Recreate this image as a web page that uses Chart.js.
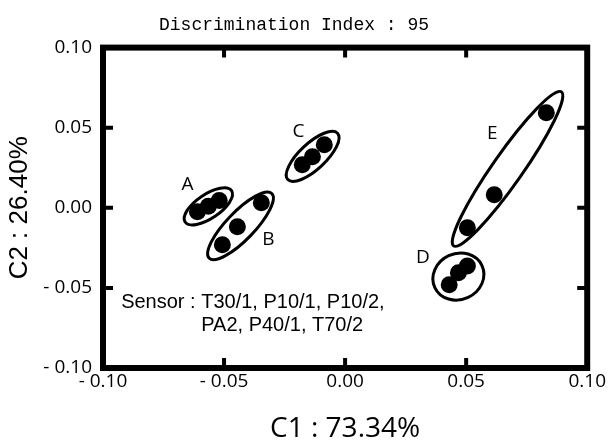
<!DOCTYPE html>
<html>
<head>
<meta charset="utf-8">
<script src="https://cdn.jsdelivr.net/npm/chart.js@4"></script>
<style>
  html, body { margin: 0; padding: 0; background: #fff; }
  #wrap { width: 608px; height: 442px; }
</style>
</head>
<body>
<div id="wrap"><canvas id="pcaChart"></canvas></div>
<script>
// values (C1, C2 scores)
const groupA = [{x: -0.0610, y: -0.0025}, {x: -0.0565, y: 0.0010}, {x: -0.0520, y: 0.0045}];
const groupB = [{x: -0.0507, y: -0.0231}, {x: -0.0445, y: -0.0119}, {x: -0.0346, y: 0.0031}];
const groupC = [{x: -0.0177, y: 0.0269}, {x: -0.0135, y: 0.0319}, {x: -0.0086, y: 0.0394}];
const groupD = [{x: 0.0505, y: -0.0363}, {x: 0.0468, y: -0.0406}, {x: 0.0430, y: -0.0481}];
const groupE = [{x: 0.0831, y: 0.0594}, {x: 0.0616, y: 0.0081}, {x: 0.0505, y: -0.0125}];

const groupNames = ['A', 'B', 'C', 'D', 'E'];
// where each letter sits (data units)
const labelPos = [
    {x: -0.0651, y: 0.0144}, {x: -0.0317, y: -0.0197}, {x: -0.0193, y: 0.0478},
    {x: 0.0321, y: -0.0309}, {x: 0.0608, y: 0.0466}
];
// cluster ellipses: centre in data units, radii in px, rotation in deg
const ellipses = [
    {x: -0.0565, y: 0.0009, rx: 28, ry: 12, rot: -34},
    {x: -0.0432, y: -0.0113, rx: 45, ry: 14, rot: -46},
    {x: -0.0134, y: 0.0321, rx: 34, ry: 13, rot: -43},
    {x: 0.0468, y: -0.0429, rx: 26, ry: 23, rot: -25},
    {x: 0.0671, y: 0.0243, rx: 94, ry: 15, rot: -55}
];

const tickValues = [-0.10, -0.05, 0.00, 0.05, 0.10];
const tickLabels = ['- 0.10', '- 0.05', '0.00', '0.05', '0.10'];
const sensorNote = ['Sensor : T30/1, P10/1, P10/2,', 'PA2, P40/1, T70/2'];
const sensorPos = {x: -0.0925, y: -0.0594};

const tickFont = {family: '"Open Sans", sans-serif', size: 19};

// frame, inward ticks, ellipses and the text notes
const decorations = {
    id: 'decorations',
    afterDatasetsDraw(chart) {
        const {ctx, chartArea: a, scales: {x, y}} = chart;
        ctx.save();
        ctx.strokeStyle = '#000';
        ctx.lineWidth = 3;
        ellipses.forEach(e => {
            ctx.beginPath();
            ctx.ellipse(x.getPixelForValue(e.x), y.getPixelForValue(e.y),
                e.rx, e.ry, e.rot * Math.PI / 180, 0, Math.PI * 2);
            ctx.stroke();
        });

        ctx.fillStyle = '#000';
        ctx.font = '19px "Open Sans", sans-serif';
        ctx.textAlign = 'center';
        ctx.textBaseline = 'middle';
        groupNames.forEach((n, i) => {
            ctx.fillText(n, x.getPixelForValue(labelPos[i].x), y.getPixelForValue(labelPos[i].y));
        });

        ctx.font = '20px "Liberation Sans", Arial, sans-serif';
        ctx.textAlign = 'left';
        const sx = x.getPixelForValue(sensorPos.x);
        const sy = y.getPixelForValue(sensorPos.y);
        ctx.fillText(sensorNote[0], sx, sy);
        ctx.fillText(sensorNote[1], sx + ctx.measureText('Sensor : ').width, sy + 23);

        // thick box + ticks pointing inside on all four sides
        ctx.lineWidth = 6;
        ctx.strokeRect(a.left, a.top, a.right - a.left, a.bottom - a.top);
        ctx.lineWidth = 4;
        ctx.beginPath();
        tickValues.slice(1, -1).forEach(v => {
            const px = x.getPixelForValue(v);
            ctx.moveTo(px, a.bottom); ctx.lineTo(px, a.bottom - 10);
            ctx.moveTo(px, a.top); ctx.lineTo(px, a.top + 10);
            const py = y.getPixelForValue(v);
            ctx.moveTo(a.left, py); ctx.lineTo(a.left + 10, py);
            ctx.moveTo(a.right, py); ctx.lineTo(a.right - 10, py);
        });
        ctx.stroke();
        ctx.restore();
    }
};

const makeSet = (label, pts) => ({
    label: label,
    data: pts,
    backgroundColor: '#000',
    borderWidth: 0,
    pointRadius: 8.5,
    pointHoverRadius: 8.5
});

new Chart(document.getElementById('pcaChart'), {
    type: 'scatter',
    data: {
        datasets: [
            makeSet('A', groupA), makeSet('B', groupB), makeSet('C', groupC),
            makeSet('D', groupD), makeSet('E', groupE)
        ]
    },
    options: {
        responsive: true,
        maintainAspectRatio: false,
        animation: false,
        layout: {padding: {left: 0, right: 20, top: 0, bottom: 0}},
        plugins: {
            legend: {display: false},
            tooltip: {enabled: false},
            title: {
                display: true,
                text: 'Discrimination Index : 95',
                color: '#000',
                font: {family: '"Liberation Mono", monospace', size: 18, weight: 'normal', lineHeight: 1.2},
                padding: {top: 14, bottom: 12}
            }
        },
        scales: {
            x: {
                min: -0.1, max: 0.1,
                afterFit: s => { s.height = 74; },
                afterBuildTicks: s => { s.ticks = tickValues.map(v => ({value: v})); },
                grid: {display: false, drawTicks: false},
                border: {display: false},
                ticks: {
                    color: '#000', font: tickFont, padding: 2, maxRotation: 0,
                    callback: (v, i) => tickLabels[i]
                },
                title: {
                    display: true, text: 'C1 : 73.34%', color: '#000',
                    font: {family: '"Open Sans", sans-serif', size: 28, lineHeight: 0.9},
                    padding: {top: 0, bottom: 0}
                }
            },
            y: {
                min: -0.1, max: 0.1,
                afterFit: s => { s.width = 103; },
                afterBuildTicks: s => { s.ticks = tickValues.map(v => ({value: v})); },
                grid: {display: false, drawTicks: false},
                border: {display: false},
                ticks: {
                    color: '#000', font: tickFont, padding: 11,
                    callback: (v, i) => tickLabels[i]
                },
                title: {
                    display: true, text: 'C2 : 26.40%', color: '#000',
                    font: {family: '"Liberation Sans", Arial, sans-serif', size: 26, lineHeight: 1},
                    padding: {top: 7, bottom: 0}
                }
            }
        }
    },
    plugins: [decorations]
});
</script>
</body>
</html>
